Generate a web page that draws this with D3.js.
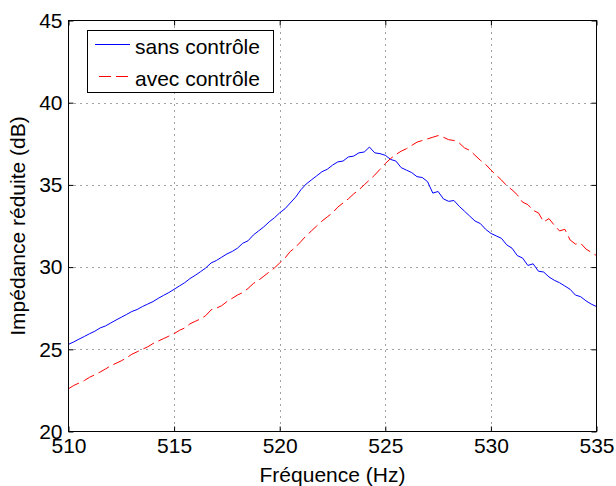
<!DOCTYPE html>
<html>
<head>
<meta charset="utf-8">
<script src="https://cdn.jsdelivr.net/npm/d3@7"></script>
<style>
  html, body { margin: 0; padding: 0; background: #fff; }
  svg { display: block; }
  text { font-family: "Liberation Sans", Arial, Helvetica, sans-serif; fill: #000; }
</style>
</head>
<body>
<script>
const frequences = [
  510.00,510.25,510.50,510.75,511.00,511.25,511.50,511.75,512.00,512.25,512.50,512.75,
  513.00,513.25,513.50,513.75,514.00,514.25,514.50,514.75,515.00,515.25,515.50,515.75,
  516.00,516.25,516.50,516.75,517.00,517.25,517.50,517.75,518.00,518.25,518.50,518.75,
  519.00,519.25,519.50,519.75,520.00,520.25,520.50,520.75,521.00,521.25,521.50,521.75,
  522.00,522.25,522.50,522.75,523.00,523.25,523.50,523.75,524.00,524.25,524.50,524.75,
  525.00,525.25,525.50,525.75,526.00,526.25,526.50,526.75,527.00,527.25,527.50,527.75,
  528.00,528.25,528.50,528.75,529.00,529.25,529.50,529.75,530.00,530.25,530.50,530.75,
  531.00,531.25,531.50,531.75,532.00,532.25,532.50,532.75,533.00,533.25,533.50,533.75,
  534.00,534.25,534.50,534.75,535.00
];
const sansControle = [
  25.30,25.45,25.62,25.78,25.95,26.10,26.30,26.42,26.60,26.78,26.95,27.12,
  27.30,27.42,27.60,27.75,27.90,28.10,28.28,28.45,28.65,28.85,29.05,29.30,
  29.50,29.72,29.95,30.25,30.40,30.60,30.80,30.95,31.15,31.45,31.60,31.95,
  32.20,32.45,32.75,33.00,33.30,33.55,33.90,34.25,34.70,35.05,35.30,35.55,
  35.80,35.95,36.20,36.40,36.45,36.70,36.75,36.95,37.00,37.30,36.95,36.90,
  36.80,36.55,36.45,36.05,35.90,35.75,35.50,35.45,35.20,34.50,34.60,34.15,
  34.00,34.05,33.70,33.40,33.10,32.80,32.65,32.30,32.05,31.90,31.75,31.35,
  31.15,30.70,30.55,30.10,30.20,29.75,29.70,29.40,29.20,29.05,28.85,28.65,
  28.30,28.20,27.95,27.75,27.60
];
const avecControle = [
  22.60,22.80,22.95,23.10,23.30,23.45,23.62,23.80,24.00,24.15,24.30,24.48,
  24.70,24.85,25.00,25.15,25.35,25.50,25.65,25.80,25.95,26.15,26.30,26.55,
  26.70,26.85,27.05,27.40,27.50,27.65,27.90,28.10,28.30,28.45,28.70,29.00,
  29.20,29.45,29.70,29.95,30.25,30.55,30.95,31.20,31.55,31.90,32.20,32.50,
  32.80,33.05,33.30,33.65,33.90,34.15,34.45,34.70,35.00,35.30,35.60,35.95,
  36.30,36.60,36.85,37.05,37.20,37.40,37.60,37.70,37.80,37.90,38.00,37.90,
  37.75,37.70,37.55,37.25,37.10,36.80,36.50,36.25,35.90,35.60,35.30,34.95,
  34.70,34.40,33.95,33.80,33.45,33.30,32.75,32.95,32.55,32.20,32.30,31.65,
  31.40,31.45,31.10,30.90,30.70
];
const xTicks = [510, 515, 520, 525, 530, 535];
const yTicks = [20, 25, 30, 35, 40, 45];
const seriesNames = ["sans contrôle", "avec contrôle"];
const seriesColors = ["#0000ff", "#ff0000"];
const xLabel = "Fréquence (Hz)";
const yLabel = "Impédance réduite (dB)";

const W = 616, H = 486;
const L = 68.5, R = 596.5, T = 20.5, B = 431.5;
const FS = 21;

const svg = d3.select("body").append("svg").attr("width", W).attr("height", H);

const x = d3.scaleLinear().domain([510, 535]).range([L, R]);
const y = d3.scaleLinear().domain([20, 45]).range([B, T]);

// grid
const grid = svg.append("g").attr("stroke", "#444").attr("stroke-width", 1)
  .attr("stroke-dasharray", "1,5");
grid.selectAll("line.gx").data(xTicks.slice(1, -1)).enter().append("line")
  .attr("x1", d => Math.round(x(d)) + 0.5).attr("x2", d => Math.round(x(d)) + 0.5)
  .attr("y1", T).attr("y2", B);
grid.selectAll("line.gy").data(yTicks.slice(1, -1)).enter().append("line")
  .attr("y1", d => Math.round(y(d)) + 0.5).attr("y2", d => Math.round(y(d)) + 0.5)
  .attr("x1", L).attr("x2", R);

// lines
const pts = (vals) => frequences.map((f, i) => [f, vals[i]]);
const line = d3.line().x(d => x(d[0])).y(d => y(d[1]));
const clip = svg.append("clipPath").attr("id", "c").append("rect")
  .attr("x", L).attr("y", T).attr("width", R - L).attr("height", B - T);
svg.append("path").datum(pts(sansControle)).attr("d", line)
  .attr("fill", "none").attr("stroke", seriesColors[0]).attr("stroke-width", 1)
  .attr("clip-path", "url(#c)");
svg.append("path").datum(pts(avecControle)).attr("d", line)
  .attr("fill", "none").attr("stroke", seriesColors[1]).attr("stroke-width", 1)
  .attr("stroke-dasharray", "12,5").attr("clip-path", "url(#c)");

// axes
const xAxis = d3.axisBottom(x).tickValues(xTicks).tickSizeInner(-5).tickSizeOuter(0).tickPadding(7);
const gx = svg.append("g").attr("transform", `translate(0,${B})`).call(xAxis);
const xAxisTop = d3.axisTop(x).tickValues(xTicks).tickSizeInner(-5).tickSizeOuter(0).tickFormat("");
svg.append("g").attr("transform", `translate(0,${T})`).call(xAxisTop);
const yAxis = d3.axisLeft(y).tickValues(yTicks).tickSizeInner(-5).tickSizeOuter(0).tickPadding(6);
const gy = svg.append("g").attr("transform", `translate(${L},0)`).call(yAxis);
const yAxisR = d3.axisRight(y).tickValues(yTicks).tickSizeInner(-5).tickSizeOuter(0).tickFormat("");
svg.append("g").attr("transform", `translate(${R},0)`).call(yAxisR);
svg.selectAll(".domain").remove();
svg.selectAll(".tick line").attr("stroke", "#000");
svg.selectAll(".tick text").attr("font-size", FS).attr("font-family", "Liberation Sans, Arial, sans-serif");

// box
svg.append("rect").attr("x", L).attr("y", T).attr("width", R - L).attr("height", B - T)
  .attr("fill", "none").attr("stroke", "#000").attr("stroke-width", 1);

// labels
svg.append("text").attr("x", (L + R) / 2).attr("y", 482).attr("text-anchor", "middle")
  .attr("font-size", FS).text(xLabel);
svg.append("text").attr("transform", `translate(24.5,${(T + B) / 2}) rotate(-90)`)
  .attr("text-anchor", "middle").attr("font-size", FS).text(yLabel);

// legend
const lg = svg.append("g");
lg.append("rect").attr("x", 87.5).attr("y", 30.5).attr("width", 186).attr("height", 62)
  .attr("fill", "#fff").attr("stroke", "#000").attr("stroke-width", 1);
const rowsY = [44.5, 76.5];
seriesNames.forEach((name, i) => {
  lg.append("line").attr("x1", i === 0 ? 95 : 99).attr("x2", 130)
    .attr("y1", rowsY[i]).attr("y2", rowsY[i])
    .attr("stroke", seriesColors[i]).attr("stroke-width", 1)
    .attr("stroke-dasharray", i === 1 ? "12,5" : null);
  lg.append("text").attr("x", 135).attr("y", rowsY[i] + 9).attr("font-size", FS).text(name);
});
</script>
</body>
</html>
